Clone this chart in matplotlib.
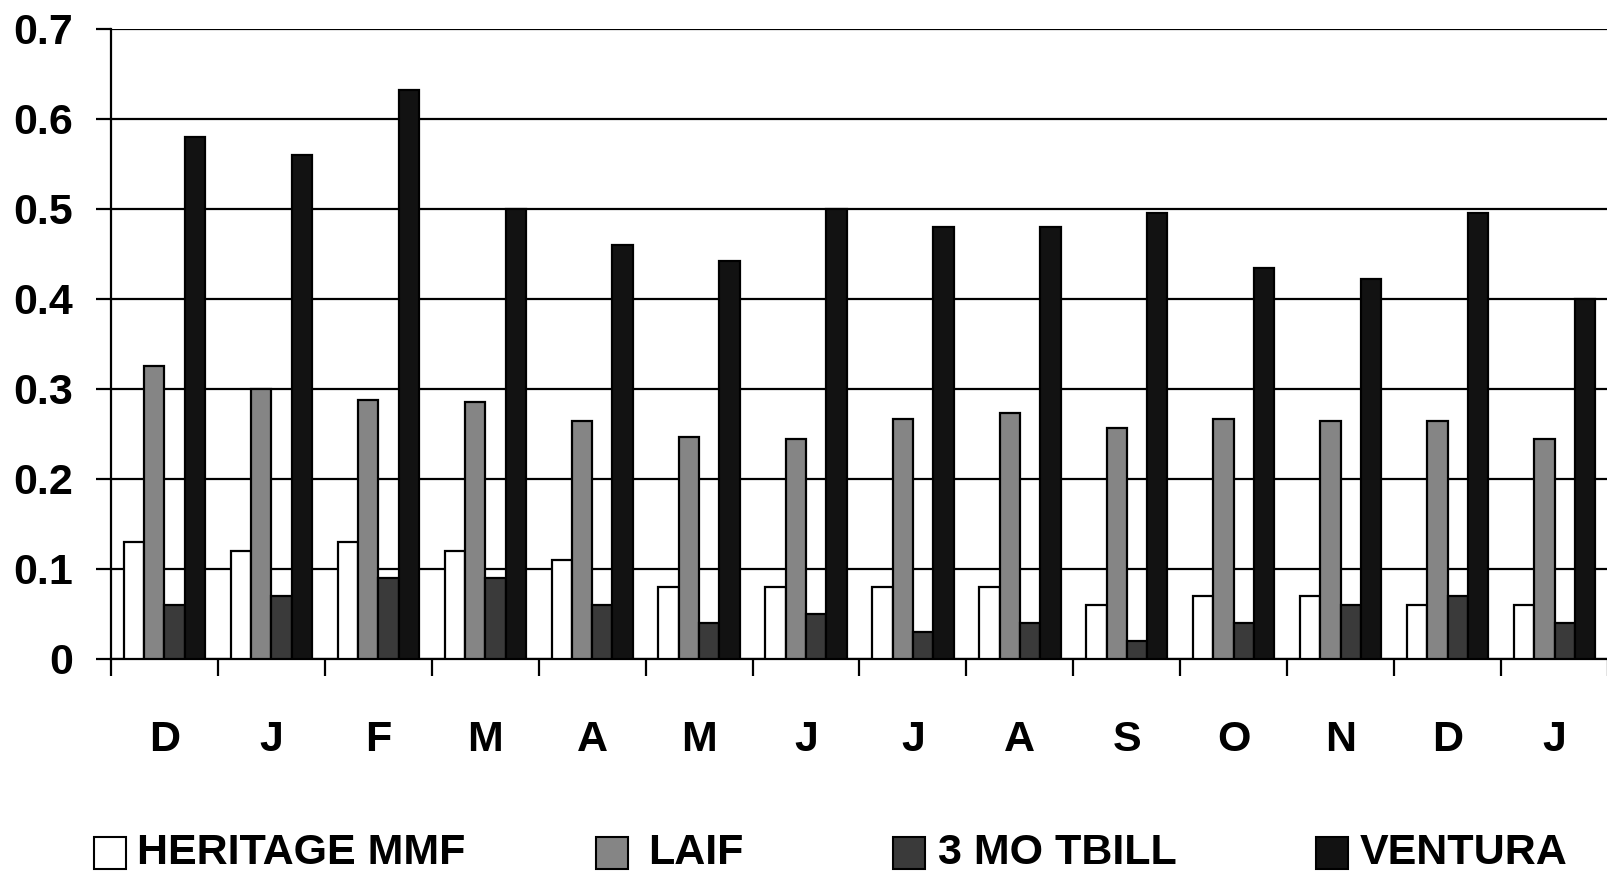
import numpy as np
import matplotlib
matplotlib.use("Agg")
import matplotlib.pyplot as plt
from matplotlib import font_manager
from matplotlib.patches import Rectangle

# monthly yields, Dec through Jan of the following year
months = ["D", "J", "F", "M", "A", "M", "J", "J", "A", "S", "O", "N", "D", "J"]
heritage_mmf = [0.13, 0.12, 0.13, 0.12, 0.11, 0.08, 0.08, 0.08, 0.08, 0.06, 0.07, 0.07, 0.06, 0.06]
laif = [0.326, 0.300, 0.288, 0.286, 0.265, 0.247, 0.245, 0.267, 0.273, 0.257, 0.267, 0.265, 0.265, 0.245]
tbill_3mo = [0.06, 0.07, 0.09, 0.09, 0.06, 0.04, 0.05, 0.03, 0.04, 0.02, 0.04, 0.06, 0.07, 0.04]
ventura = [0.58, 0.56, 0.632, 0.50, 0.46, 0.442, 0.50, 0.48, 0.48, 0.496, 0.435, 0.422, 0.496, 0.40]

series_names = ["HERITAGE MMF", "LAIF", "3 MO TBILL", "VENTURA"]
series_values = [heritage_mmf, laif, tbill_3mo, ventura]
series_colors = ["#ffffff", "#858585", "#3a3a3a", "#121212"]
yticks = [0, 0.1, 0.2, 0.3, 0.4, 0.5, 0.6, 0.7]

available = {f.name for f in font_manager.fontManager.ttflist}
family = "Liberation Sans Narrow" if "Liberation Sans Narrow" in available else "Liberation Sans"
plt.rcParams["font.family"] = family
plt.rcParams["font.weight"] = "bold"
FS = 31

fig = plt.figure(figsize=(16.08, 8.74), dpi=100)
ax = fig.add_axes([111 / 1608, 215 / 874, 1 - 111 / 1608, 630 / 874])

n = len(months)
width = 0.19
x = np.arange(n) + 0.5
for k, (vals, col) in enumerate(zip(series_values, series_colors)):
    ax.bar(x + (k - 1.5) * width, vals, width, color=col, edgecolor="black",
           linewidth=1.6, zorder=3)

ax.set_xlim(0, n)
ax.set_ylim(0, 0.7)
ax.set_yticks(yticks)
ax.set_yticklabels([f"{v:g}" for v in yticks])
ax.yaxis.grid(True, color="black", linewidth=1.6, zorder=0)
ax.set_axisbelow(True)

ax.set_xticks(x)
ax.set_xticklabels(months)
ax.set_xticks(np.arange(n + 1), minor=True)
ax.tick_params(axis="x", which="major", length=0, pad=44, labelsize=FS)
ax.tick_params(axis="x", which="minor", length=12, width=1.6, direction="out")
ax.tick_params(axis="y", length=11, width=1.6, pad=16, labelsize=FS)

for side in ("top", "right"):
    ax.spines[side].set_visible(False)
for side in ("left", "bottom"):
    ax.spines[side].set_linewidth(1.6)

# legend row along the bottom edge
legend_items = [(94, 137), (596, 648), (893, 938), (1316, 1360)]
box = 32
yc = 853
for (bx, tx), name, col in zip(legend_items, series_names, series_colors):
    fig.patches.append(Rectangle((bx / 1608, (874 - yc - box / 2) / 874),
                                 box / 1608, box / 874, transform=fig.transFigure,
                                 facecolor=col, edgecolor="black", linewidth=1.5))
    fig.text(tx / 1608, (874 - yc) / 874, name, fontsize=FS, fontweight="bold",
             va="center", ha="left")

fig.savefig("out.png", dpi=100, facecolor="white")
